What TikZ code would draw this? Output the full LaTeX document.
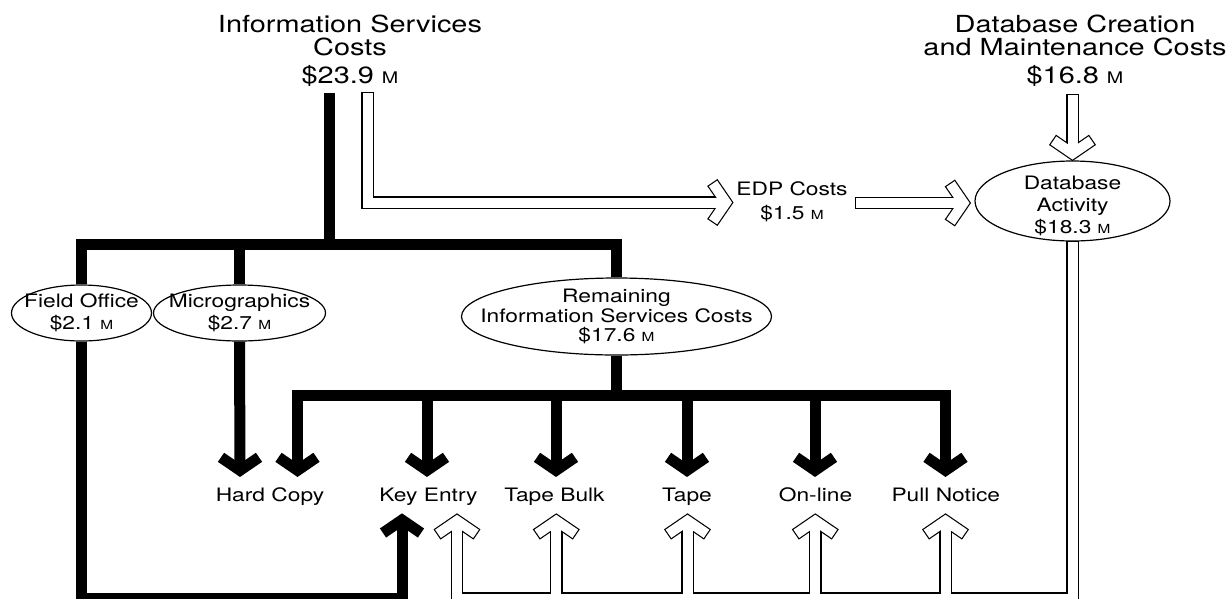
\documentclass[tikz,border=0pt]{standalone}
\usepackage{fontspec}
\setmainfont{TeX Gyre Heros}[FakeStretch=1.23]
\usetikzlibrary{shapes.geometric,backgrounds}
\newcommand\tM{{\fontsize{16}{16}\selectfont M}}
\newcommand\sM{{\fontsize{12.5}{12.5}\selectfont M}}
\tikzset{
  chevD/.pic={\draw[pic actions] (-19,-13) -- (0,0) -- (19,-13);},
  chevU/.pic={\draw[pic actions] (-19,13) -- (0,0) -- (19,13);},
  chevR/.pic={\draw[pic actions] (-13,-19) -- (0,0) -- (-13,19);},
}
\newcommand\hollownet[1]{%
  \draw[#1] (s2) |- (edpIn);
  \pic[#1] at (edpIn) {chevR};
  \draw[#1] (edpOut) -- (dbaIn);
  \pic[#1] at (dbaIn) {chevR};
  \draw[#1] (s3) -- (dbaTop);
  \pic[#1] at (dbaTop) {chevD};
  \draw[#1] (dba.south) |- (hb) -- (keH);
  \pic[#1] at (keH) {chevU};
  \draw[#1] (tbH |- hb) -- (tbH);
  \pic[#1] at (tbH) {chevU};
  \draw[#1] (tpH |- hb) -- (tpH);
  \pic[#1] at (tpH) {chevU};
  \draw[#1] (olH |- hb) -- (olH);
  \pic[#1] at (olH) {chevU};
  \draw[#1] (pnH |- hb) -- (pnH);
  \pic[#1] at (pnH) {chevU};
}
\begin{document}
\begin{tikzpicture}[x=1pt,y=-1pt,
  ttl/.style={font=\fontsize{23.5}{23.4}\selectfont, align=center, inner sep=0pt},
  lbl/.style={font=\fontsize{18.5}{22}\selectfont, align=center, inner sep=0pt},
  oval/.style={ellipse, draw, line width=1.2pt, fill=white, inner sep=-30pt,
    font=\fontsize{18.5}{22}\selectfont, align=center},
  blk/.style={line width=11pt, line join=miter, black},
  hout/.style={line width=12.4pt, line join=miter, black, shorten <=-1.2pt, shorten >=-1.2pt},
  hin/.style={line width=10pt, line join=miter, white},
]
\useasboundingbox (0,0) rectangle (1228,598);

% titles (base = baseline of last line)
\node[ttl, anchor=base] (tIS) at (350,83.3) {Information Services\\Costs\\[4.5pt]\$23.9 \tM};
\node[ttl, anchor=base] (tDB) at (1075,83.3) {Database Creation\\and Maintenance Costs\\[4.5pt]\$16.8 \tM};

% ellipses
\node[oval, minimum width=140pt, minimum height=56pt] (fo) at (81.5,313) {Field Office\\\$2.1 \sM};
\node[oval, minimum width=172pt, minimum height=56pt] (mg) at (239.5,313) {Micrographics\\\$2.7 \sM};
\node[oval, minimum width=310pt, minimum height=77pt, font=\fontsize{18.5}{19.7}\selectfont] (rem) at (616.5,316.5) {Remaining\\Information Services Costs\\\$17.6 \sM};
\node[oval, minimum width=195pt, minimum height=80pt] (dba) at (1072.5,201) {\rule{0pt}{23.5pt}Database\\Activity\\\$18.3 \sM};
\node[lbl, font=\fontsize{18.5}{24.3}\selectfont, anchor=base] (edp) at (792,219.3) {EDP Costs\\\$1.5 \sM};

% bottom labels
\node[lbl, anchor=base] (hc) at (270,501.7) {Hard Copy};
\node[lbl, anchor=base] (ke) at (428.5,501.7) {Key Entry};
\node[lbl, anchor=base] (tb) at (554.5,501.7) {Tape Bulk};
\node[lbl, anchor=base] (tp) at (687,501.7) {Tape};
\node[lbl, anchor=base] (ol) at (815.5,501.7) {On-line};
\node[lbl, anchor=base] (pn) at (945.8,501.7) {Pull Notice};

% coordinates
\coordinate (s1) at (329.5,93);
\coordinate (j1) at (329.5,244);
\coordinate (j2) at (616.5,395);
\coordinate (hcA) at (240,470.3);
\coordinate (hcB) at (297.5,470.3);
\coordinate (keD) at (427,470.3);
\coordinate (tbD) at (556,470.3);
\coordinate (tpD) at (687,470.3);
\coordinate (olD) at (815,470.3);
\coordinate (pnD) at (945.5,470.3);
\coordinate (keU) at (402,520);
\coordinate (bk) at (402,598.5);
\coordinate (s2) at (367.5,93);
\coordinate (edpIn) at (726,202.5);
\coordinate (edpOut) at (856,203);
\coordinate (dbaIn) at (963.5,203);
\coordinate (s3) at (1072.5,95);
\coordinate (dbaTop) at (1072.5,153.5);
\coordinate (hb) at (457,598.5);
\coordinate (keH) at (457,520.8);
\coordinate (tbH) at (556.3,520.8);
\coordinate (tpH) at (687.5,520.8);
\coordinate (olH) at (815.3,520.8);
\coordinate (pnH) at (945.5,520.8);

\begin{pgfonlayer}{background}
% solid black flows
\draw[blk] (s1) -- (j1);
\draw[blk] (fo.north) |- (j1) -| (rem.north);
\draw[blk] (mg.north) -- (mg.north |- j1);
\draw[blk] (mg.south) -- (hcA);
\pic[blk] at (hcA) {chevD};
\draw[blk] (rem.south) -- (j2);
\draw[blk] (hcB) |- (j2) -| (pnD);
\pic[blk] at (hcB) {chevD};
\pic[blk] at (pnD) {chevD};
\draw[blk] (keD |- j2) -- (keD);
\pic[blk] at (keD) {chevD};
\draw[blk] (tbD |- j2) -- (tbD);
\pic[blk] at (tbD) {chevD};
\draw[blk] (tpD |- j2) -- (tpD);
\pic[blk] at (tpD) {chevD};
\draw[blk] (olD |- j2) -- (olD);
\pic[blk] at (olD) {chevD};
\draw[blk] (fo.south) |- (bk) -- (keU);
\pic[blk] at (keU) {chevU};
% hollow flows
\hollownet{hout}
\hollownet{hin}
\end{pgfonlayer}
\end{tikzpicture}
\end{document}
